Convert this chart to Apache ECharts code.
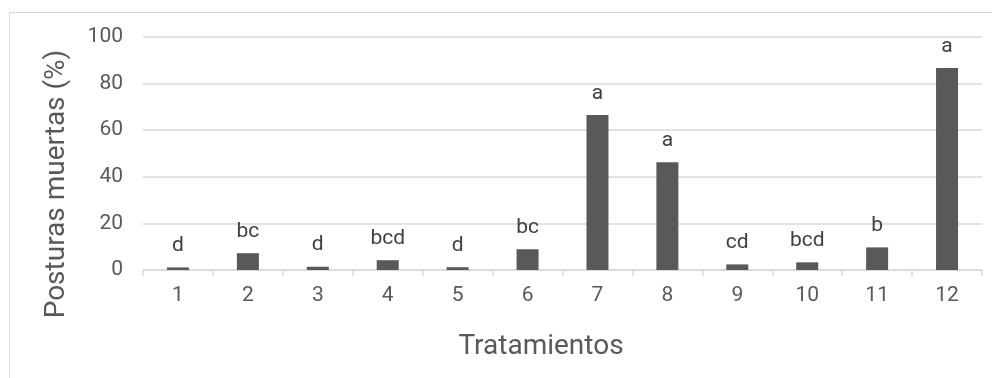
<!DOCTYPE html>
<html>
<head>
<meta charset="utf-8">
<script src="https://cdn.jsdelivr.net/npm/echarts@6/dist/echarts.min.js"></script>
<style>
  html, body { margin: 0; padding: 0; background: #fff; }
  #frame { position: absolute; left: 9px; top: 12px; width: 990px; height: 380px; border: 1px solid #d9d9d9; box-sizing: border-box; }
  #chart { position: absolute; left: 0; top: 0; width: 992px; height: 378px; }
</style>
</head>
<body>
<div id="frame"></div>
<div id="chart"></div>
<script>
// Treatments and percentage of dead egg masses, with significance letters
const tratamientos = ['1', '2', '3', '4', '5', '6', '7', '8', '9', '10', '11', '12'];
const posturasMuertas = [1.1, 7.2, 1.4, 4.2, 1.2, 8.9, 66.5, 46.2, 2.4, 3.3, 9.7, 86.7];
const letras = ['d', 'bc', 'd', 'bcd', 'd', 'bc', 'a', 'a', 'cd', 'bcd', 'b', 'a'];
const yTicks = [0, 20, 40, 60, 80, 100];
const tituloX = 'Tratamientos';
const tituloY = 'Posturas muertas (%)';

const chart = echarts.init(document.getElementById('chart'), null, { renderer: 'canvas' });
const font = 'Roboto, "Liberation Sans", sans-serif';

chart.setOption({
  animation: false,
  grid: { left: 143, right: 10, top: 37, bottom: 108 },
  xAxis: {
    type: 'category',
    data: tratamientos,
    axisLine: { lineStyle: { color: '#d9d9d9', width: 1.5 } },
    axisTick: { show: true, alignWithLabel: false, length: 6, lineStyle: { color: '#d9d9d9', width: 1.5 } },
    axisLabel: { fontFamily: font, fontSize: 21, color: '#595959', margin: 15 }
  },
  yAxis: {
    type: 'value',
    min: yTicks[0],
    max: yTicks[yTicks.length - 1],
    interval: 20,
    axisLine: { show: false },
    axisTick: { show: false },
    axisLabel: { fontFamily: font, fontSize: 21, color: '#595959', margin: 20 },
    splitLine: { lineStyle: { color: '#d9d9d9', width: 1.5 } }
  },
  // axis titles placed as free text
  graphic: [
    {
      type: 'text',
      x: 541, y: 347,
      style: { text: tituloX, font: '28px ' + font, fill: '#595959', align: 'center', verticalAlign: 'middle' }
    },
    {
      type: 'text',
      x: 57, y: 184,
      rotation: Math.PI / 2,
      style: { text: tituloY, font: '28px ' + font, fill: '#595959', align: 'center', verticalAlign: 'middle' }
    }
  ],
  series: [{
    type: 'bar',
    data: posturasMuertas,
    barWidth: 22,
    itemStyle: { color: '#595959' },
    label: {
      show: true,
      position: 'top',
      distance: 11,
      fontFamily: font,
      fontSize: 21,
      color: '#404040',
      formatter: p => letras[p.dataIndex]
    }
  }]
});
</script>
</body>
</html>
